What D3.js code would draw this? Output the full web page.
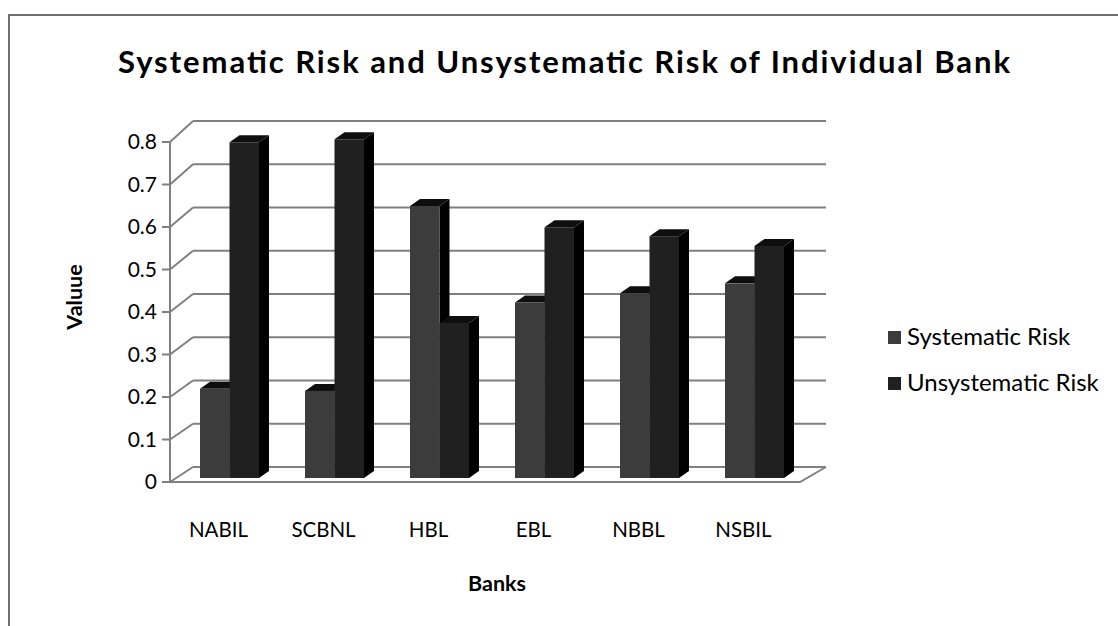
<!DOCTYPE html>
<html>
<head>
<meta charset="utf-8">
<script src="https://cdn.jsdelivr.net/npm/d3@7"></script>
<style>
  body { margin: 0; background: #fff; }
  text { font-family: Lato, "Open Sans", sans-serif; fill: #000; }
</style>
</head>
<body>
<svg id="chart" width="1118" height="626"></svg>
<script>
const banks = ["NABIL", "SCBNL", "HBL", "EBL", "NBBL", "NSBIL"];
const seriesNames = ["Systematic Risk", "Unsystematic Risk"];
const systematicRisk = [0.21, 0.205, 0.64, 0.413, 0.435, 0.458];
const unsystematicRisk = [0.79, 0.797, 0.365, 0.59, 0.569, 0.546];
const yTicks = [0, 0.1, 0.2, 0.3, 0.4, 0.5, 0.6, 0.7, 0.8];

const colors = { "Systematic Risk": "#3c3c3c", "Unsystematic Risk": "#202020" };
const d3 = window.d3;
const svg = d3.select("#chart");

// frame around the chart area (runs off the right and bottom)
svg.append("rect")
  .attr("x", 9).attr("y", 15)
  .attr("width", 1200).attr("height", 700)
  .attr("fill", "none").attr("stroke", "#6f6f6f").attr("stroke-width", 2);

// front plane, back wall and bar plane
const x = d3.scaleBand().domain(banks).range([170, 800]);
const yFront = d3.scaleLinear().domain([0, 0.8]).range([482, 142]);
const yBack = d3.scaleLinear().domain([0, 0.8]).range([467, 121]);
const yBar = d3.scaleLinear().domain([0, 0.8]).range([478, 138]);
const depth = { dx: 23, dy: -15 };
const barShift = 7;
const cap = { dx: 10, dy: -7 };

const grid = svg.append("g").attr("stroke", "#808080").attr("stroke-width", 2).attr("fill", "none");

// back wall gridlines
grid.selectAll(".grid-back")
  .data(yTicks)
  .enter()
  .append("line")
  .attr("x1", 170 + depth.dx).attr("x2", 800 + depth.dx + 3)
  .attr("y1", (d) => yBack(d)).attr("y2", (d) => yBack(d));

// left wall diagonals
grid.selectAll(".grid-side")
  .data(yTicks)
  .enter()
  .append("line")
  .attr("x1", 170).attr("x2", 170 + depth.dx)
  .attr("y1", (d) => yFront(d)).attr("y2", (d) => yBack(d));

// floor
grid.append("path")
  .attr("d", `M170,${yFront(0)}L800,${yFront(0)}L${800 + depth.dx + 3},${yBack(0)}`);

// y axis with ticks
grid.append("line").attr("x1", 170).attr("x2", 170).attr("y1", yFront(0)).attr("y2", yFront(0.8));
grid.selectAll(".tick")
  .data(yTicks)
  .enter()
  .append("line")
  .attr("x1", 162).attr("x2", 170)
  .attr("y1", (d) => yFront(d)).attr("y2", (d) => yFront(d));

svg.selectAll(".ylabel")
  .data(yTicks)
  .enter()
  .append("text")
  .attr("x", 157)
  .attr("y", (d) => yFront(d))
  .attr("dy", "0.35em")
  .attr("text-anchor", "end")
  .style("font-size", "21px")
  .text((d) => d3.format("")(d));

// bars
const x1 = d3.scaleBand().domain(seriesNames).range([0, 59]);
const rows = banks.map((b, i) => ({ bank: b, values: [systematicRisk[i], unsystematicRisk[i]] }));

const bars = svg.append("g");
rows.forEach((row) => {
  row.values.forEach((v, j) => {
    const name = seriesNames[j];
    const left = x(row.bank) + x.bandwidth() / 2 - 29.5 + barShift + x1(name);
    const w = x1.bandwidth();
    const top = yBar(v), base = yBar(0);
    // side
    bars.append("path")
      .attr("d", `M${left + w},${top}L${left + w + cap.dx},${top + cap.dy}L${left + w + cap.dx},${base + cap.dy}L${left + w},${base}Z`)
      .attr("fill", "#000");
    // top
    bars.append("path")
      .attr("d", `M${left},${top}L${left + cap.dx},${top + cap.dy}L${left + w + cap.dx},${top + cap.dy}L${left + w},${top}Z`)
      .attr("fill", "#0e0e0e");
    // front
    bars.append("rect")
      .attr("x", left).attr("y", top)
      .attr("width", w).attr("height", base - top)
      .attr("fill", colors[name]);
  });
});

// category labels
svg.selectAll(".xlabel")
  .data(banks)
  .enter()
  .append("text")
  .attr("x", (d) => x(d) + x.bandwidth() / 2 - 4)
  .attr("y", 537)
  .attr("text-anchor", "middle")
  .style("font-size", "20.5px")
  .text((d) => d);

// titles
svg.append("text")
  .attr("x", 564).attr("y", 73)
  .attr("text-anchor", "middle")
  .attr("textLength", 892)
  .attr("lengthAdjust", "spacing")
  .style("font-size", "31px").style("font-weight", "bold")
  .text("Systematic Risk and Unsystematic Risk of Individual Bank");

svg.append("text")
  .attr("x", 497).attr("y", 591)
  .attr("text-anchor", "middle")
  .style("font-size", "21.5px").style("font-weight", "bold")
  .text("Banks");

svg.append("text")
  .attr("transform", "translate(82,297) rotate(-90)")
  .attr("text-anchor", "middle")
  .style("font-size", "21.5px").style("font-weight", "bold")
  .text("Valuue");

// legend
const legend = svg.append("g");
seriesNames.forEach((name, i) => {
  const ly = 337 + i * 46;
  legend.append("rect")
    .attr("x", 888).attr("y", ly - 6).attr("width", 13).attr("height", 13)
    .attr("fill", colors[name]);
  legend.append("text")
    .attr("x", 907).attr("y", ly)
    .attr("dy", "0.35em")
    .style("font-size", "24px")
    .text(name);
});
</script>
</body>
</html>
